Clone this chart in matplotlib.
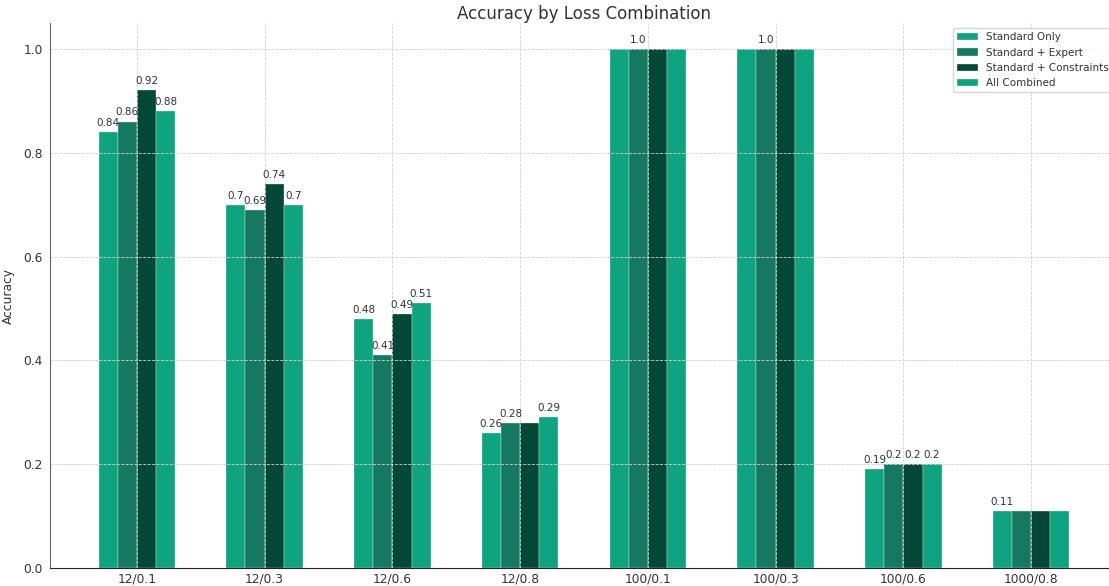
import numpy as np
import matplotlib
matplotlib.use("Agg")
import matplotlib.pyplot as plt

# data
combos = ["12/0.1", "12/0.3", "12/0.6", "12/0.8", "100/0.1", "100/0.3", "100/0.6", "1000/0.8"]
series_names = ["Standard Only", "Standard + Expert", "Standard + Constraints", "All Combined"]
standard_only = [0.84, 0.70, 0.48, 0.26, 1.0, 1.0, 0.19, 0.11]
standard_expert = [0.86, 0.69, 0.41, 0.28, 1.0, 1.0, 0.2, 0.11]
standard_constraints = [0.92, 0.74, 0.49, 0.28, 1.0, 1.0, 0.2, 0.11]
all_combined = [0.88, 0.70, 0.51, 0.29, 1.0, 1.0, 0.2, 0.11]

# which value labels are visible in the reference
show_only = [1, 1, 1, 1, 0, 0, 1, 1]
show_expert = [1, 1, 1, 1, 1, 1, 1, 0]
show_constraints = [1, 1, 1, 0, 0, 0, 1, 0]
show_all = [1, 1, 1, 1, 0, 0, 1, 0]

colors = ["#10a37f", "#147960", "#034737", "#10a37f"]

values = [standard_only, standard_expert, standard_constraints, all_combined]
shows = [show_only, show_expert, show_constraints, show_all]

text_col = "#333333"

fig = plt.figure(figsize=(11.09, 5.86), dpi=100)
ax = fig.add_axes([50 / 1109, 18 / 586, 1068 / 1109, 545 / 586])

x = np.arange(len(combos))
width = 0.15

for i, (name, vals, show, col) in enumerate(zip(series_names, values, shows, colors)):
    pos = x + (i - 1.5) * width
    ax.bar(pos, vals, width, label=name, color=col, edgecolor="#e8f5f0", linewidth=0.25)
    for p, v, s in zip(pos, vals, show):
        if s:
            ax.text(p, v + 0.008, f"{v}", ha="center", va="bottom",
                    fontsize=7.5, color=text_col)

ax.set_xlim(-0.68, 7.68)
ax.set_ylim(0, 1.05)
ax.set_xticks(x)
ax.set_xticklabels(combos)
ax.set_yticks([0.0, 0.2, 0.4, 0.6, 0.8, 1.0])
ax.tick_params(length=0, labelsize=8.8, labelcolor=text_col)
ax.tick_params(axis="y", pad=5)
ax.tick_params(axis="x", pad=3)

ax.set_ylabel("Accuracy", fontsize=8.8, color=text_col, labelpad=6)
ax.set_title("Accuracy by Loss Combination", fontsize=12, color=text_col, pad=-1)

ax.grid(True, linestyle="--", linewidth=0.6, color="#d0d0d0")
ax.spines["top"].set_visible(False)
ax.spines["right"].set_visible(False)
ax.spines["left"].set_color("#666666")
ax.spines["bottom"].set_color("#222222")

leg = ax.legend(loc="upper right", fontsize=7.5, frameon=True)
leg.get_frame().set_edgecolor("#cccccc")
for t in leg.get_texts():
    t.set_color(text_col)

fig.savefig("out.png", dpi=100)
